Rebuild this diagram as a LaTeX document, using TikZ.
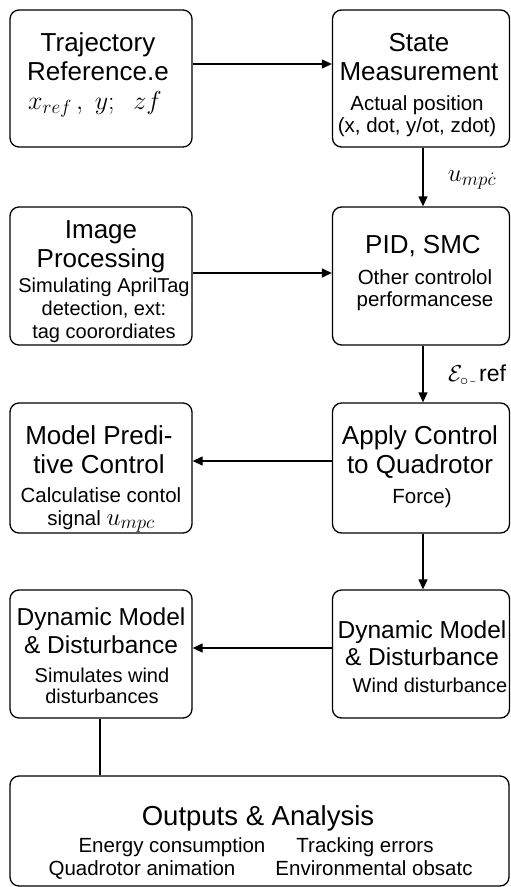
\documentclass[tikz,border=0pt]{standalone}
\usepackage{fix-cm}
\usepackage{fontspec}
\setmainfont{Liberation Sans}
\usetikzlibrary{arrows.meta}
% subscript set at a given size, larger than the usual script size
\newcommand{\bigsub}[2]{_{\mbox{\fontsize{#1}{#1}\selectfont$#2$}}}
\begin{document}
\begin{tikzpicture}[x=1pt,y=-1pt,
  box/.style={draw, line width=1.3pt, rounded corners=9pt, inner sep=0pt},
  lbox/.style={box, minimum width=182pt},
  rbox/.style={box, minimum width=177pt},
  head/.style={anchor=base, inner sep=0pt, align=center, font=\fontsize{26}{29}\selectfont},
  sub/.style={anchor=base, inner sep=0pt, align=center, font=\fontsize{20.5}{22.5}\selectfont},
  flow/.style={line width=1.3pt, -{Triangle[length=10pt,width=9pt]}},
  link/.style={line width=1.3pt},
  tag/.style={inner sep=0pt, font=\fontsize{23}{25}\selectfont}
]
\useasboundingbox (0,0) rectangle (511,887);

% blocks
\node[lbox, minimum height=137pt] (traj)  at (101,78.5) {};
\node[rbox, minimum height=137pt] (state) at (421,78.5) {};
\node[lbox, minimum height=138pt] (img)   at (101,276) {};
\node[rbox, minimum height=138pt] (pid)   at (421,276) {};
\node[lbox, minimum height=130pt] (mpc)   at (101,468) {};
\node[rbox, minimum height=130pt] (apply) at (421,468) {};
\node[lbox, minimum height=128pt] (dynL)  at (101,654) {};
\node[rbox, minimum height=128pt] (dynR)  at (421,654) {};
\node[box, minimum width=499pt, minimum height=110pt] (out) at (259.5,831) {};

% block texts (each placed by the baseline of its last line)
\node[head] (trajT) at (98,80) {Trajectory\\Reference.e};
\node[anchor=base, inner sep=0pt, font=\fontsize{26}{28}\selectfont] (trajM) at (95,109) {$x\bigsub{19}{ref}\,,\ y;\ \ zf$};

\node[head] (stateT) at (419,80) {State\\Measurement};
\node[sub, font=\fontsize{20.5}{22}\selectfont] (stateS) at (417,132) {Actual position\\(x, dot, y/ot, zdot)};

\node[head] (imgT) at (101,267) {Image\\Processing};
\node[sub, font=\fontsize{20}{23}\selectfont] (imgS) at (104,338) {Simulating AprilTag\\detection, ext:\\tag coorordiates};

\node[head] (pidT) at (423,253) {PID, SMC};
\node[sub, font=\fontsize{20.5}{21.5}\selectfont] (pidS) at (425,306) {Other controlol\\performancese};

\node[head] (mpcT) at (99,473) {Model Predi-\\tive Control};
\node[sub, font=\fontsize{20.5}{23}\selectfont] (mpcS) at (101,525) {Calculatise contol\\signal {\fontsize{25}{25}\selectfont$u\bigsub{19}{mpc}$}};

\node[head] (applyT) at (420,473) {Apply Control\\to Quadrotor};
\node[sub] (applyS) at (422,503) {Force)};

\node[head, font=\fontsize{24.5}{28}\selectfont] (dynLT) at (101,653) {Dynamic Model\\\& Disturbance};
\node[sub, font=\fontsize{20}{21}\selectfont] (dynLS) at (102,703) {Simulates wind\\disturbances};

\node[head, font=\fontsize{24.5}{27}\selectfont] (dynRT) at (422,665) {Dynamic Model\\\& Disturbance};
\node[sub, font=\fontsize{20}{21}\selectfont] (dynRS) at (430,692) {Wind disturbance};

\node[head, font=\fontsize{27.5}{29}\selectfont] (outT) at (258,825) {Outputs \& Analysis};
\node[sub] (outA) at (172,852) {Energy consumption};
\node[sub] (outB) at (365,852) {Tracking errors};
\node[sub] (outC) at (142,875) {Quadrotor animation};
\node[sub] (outD) at (374,875) {Environmental obsatc};

% connectors
\draw[flow] ([yshift=14.5pt]traj.east) -- ([yshift=14.5pt]state.west);
\draw[flow] ([xshift=2pt]state.south) -- ([xshift=2pt]pid.north);
\draw[flow] ([yshift=3pt]img.east) -- ([yshift=3pt]pid.west);
\draw[flow] ([xshift=2pt]pid.south) -- ([xshift=2pt]apply.north);
\draw[flow] ([yshift=7pt]apply.west) -- ([yshift=7pt]mpc.east);
\draw[flow] ([xshift=2pt]apply.south) -- ([xshift=2pt]dynR.north);
\draw[flow] ([yshift=6pt]dynR.west) -- ([yshift=6pt]dynL.east);
\draw[link] ([xshift=-1pt]dynL.south) -- ([xshift=-1pt]dynL.south |- out.north);

% connector labels
\node[tag, font=\fontsize{25}{27}\selectfont] (uLbl) at (472,180) {$u\bigsub{19}{mp\dot{c}}$};
\node[tag] (eLbl) at (477,375) {$\mathcal{E}_{\circ}$\raisebox{-3pt}{\small\,--}\,ref};
\end{tikzpicture}
\end{document}
